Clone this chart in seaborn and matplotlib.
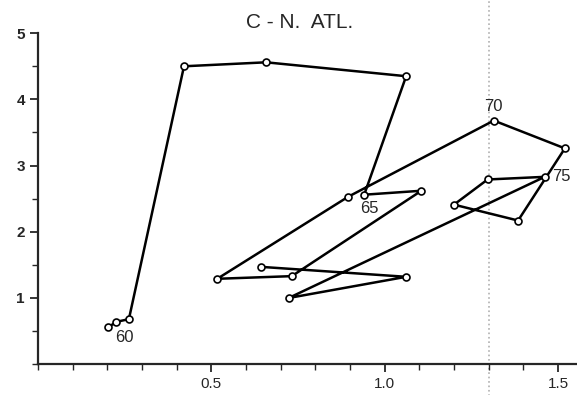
import numpy as np
import pandas as pd
import matplotlib
matplotlib.use("Agg")
import matplotlib.pyplot as plt
import seaborn as sns
from matplotlib.ticker import MultipleLocator

# year-by-year path
years = list(range(1959, 1979))
x_vals = [0.203, 0.226, 0.262, 0.421, 0.658, 1.062, 0.941, 1.106, 0.732, 0.517,
          0.895, 1.315, 1.520, 1.385, 1.200, 1.297, 1.462, 0.723, 1.062, 0.644]
y_vals = [0.56, 0.64, 0.68, 4.50, 4.56, 4.35, 2.56, 2.62, 1.33, 1.29,
          2.53, 3.68, 3.26, 2.17, 2.41, 2.79, 2.83, 1.00, 1.32, 1.47]

label_years = [1960, 1965, 1970, 1975]
label_text = ["60", "65", "70", "75"]

df = pd.DataFrame({"year": years, "x": x_vals, "y": y_vals})

sns.set_style("ticks")
plt.rcParams["font.family"] = ["Liberation Sans", "DejaVu Sans"]

fig = plt.figure(figsize=(5.77, 3.95), dpi=100)
ax = fig.add_axes([0.066, 0.078, 0.934, 0.838])

sns.lineplot(data=df, x="x", y="y", sort=False, estimator=None, color="black",
             linewidth=1.8, marker="o", markersize=5, markerfacecolor="white",
             markeredgecolor="black", markeredgewidth=1.2, ax=ax)

# year labels next to points
offsets = {1960: (6, -11, "center"), 1965: (4, -10, "center"),
           1970: (0, 10, "center"), 1975: (5, 0, "left")}
for yr, txt in zip(label_years, label_text):
    r = df[df["year"] == yr].iloc[0]
    dx, dy, ha = offsets[yr]
    ax.annotate(txt, (r["x"], r["y"]), xytext=(dx, dy), textcoords="offset points",
                ha=ha, va="center", fontsize=12)

# faint dotted fold line from the scan
ax.axvline(1.3, ymin=-0.1, ymax=1.1, color="#b0b0b0", linestyle=":",
           linewidth=1.2, clip_on=False, zorder=0)

ax.set_xlim(0, 1.555)
ax.set_ylim(0, 5)
ax.xaxis.set_minor_locator(MultipleLocator(0.1))
ax.yaxis.set_minor_locator(MultipleLocator(0.5))
ax.set_xticks([0.5, 1.0, 1.5])
ax.set_xticklabels(["0.5", "1.0", "1.5"])
ax.set_yticks([1, 2, 3, 4, 5])
ax.set_yticklabels(["1", "2", "3", "4", "5"], fontweight="bold")
ax.tick_params(axis="both", which="major", length=6, width=1.3, labelsize=11, direction="out")
ax.tick_params(axis="both", which="minor", length=4, width=1.0, direction="out")
ax.set_xlabel("")
ax.set_ylabel("")
sns.despine(ax=ax)
for s in ["left", "bottom"]:
    ax.spines[s].set_linewidth(1.6)

fig.text(0.52, 0.944, "C - N.  ATL.", ha="center", va="center", fontsize=15)

fig.savefig("out.png", dpi=100)
